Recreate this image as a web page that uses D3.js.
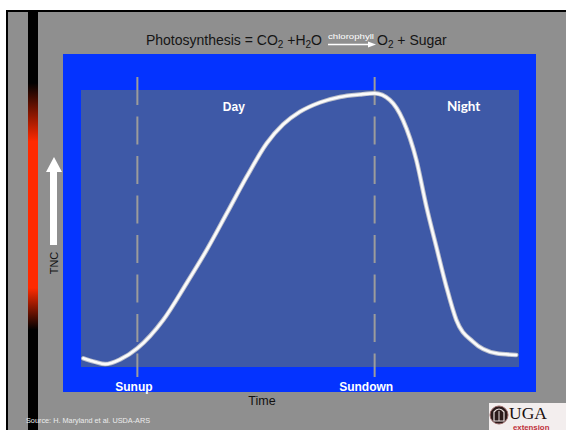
<!DOCTYPE html>
<html><head><meta charset="utf-8">
<script src="https://cdn.jsdelivr.net/npm/d3@7"></script>
<style>
html,body{margin:0;padding:0;background:#fff;}
svg{display:block;}
</style></head>
<body>
<script>
// ---- data ----
const times = [3.27, 3.86, 4.37, 5.13, 6.0, 7.31, 8.49, 9.5, 10.52, 11.53, 12.54, 13.37, 14.21, 15.23, 16.24, 17.25, 18.0, 18.77, 19.43, 20.11, 20.62, 21.12, 21.63, 22.13, 22.97, 24.15, 25.16];
const tnc   = [3.5, 2.2, 1.4, 3.1, 7.1, 17.3, 30.5, 42.4, 55.6, 68.8, 80.8, 87.6, 92.1, 95.5, 97.5, 98.4, 98.8, 96.4, 89.2, 74.8, 58.0, 43.6, 29.2, 17.3, 9.5, 5.3, 4.7];
const markerTimes = [6, 18];
const markerLabels = ["Sunup", "Sundown"];
const periodTimes = [10.88, 22.5];
const periodLabels = ["Day", "Night"];
const titleLeft = ["Photosynthesis = CO", "2", " +H", "2", "O"];
const titleRight = ["O", "2", " + Sugar"];
const catalyst = "chlorophyll";
const yLabel = "TNC";
const xLabel = "Time";
const source = "Source: H. Maryland et al. USDA-ARS";

const W = 566, H = 430;
const svg = d3.select("body").append("svg").attr("width", W).attr("height", H);

// slide background
svg.append("rect").attr("width", W).attr("height", H).attr("fill", "#fff");
svg.append("rect").attr("x", 6).attr("y", 10).attr("width", W - 6).attr("height", H - 10).attr("fill", "#000");
svg.append("rect").attr("x", 8).attr("y", 12).attr("width", W - 8).attr("height", H - 12).attr("fill", "#8f8f8f");

// gradient bar
const defs = svg.append("defs");
const g = defs.append("linearGradient").attr("id", "bar").attr("x1", 0).attr("y1", 0).attr("x2", 0).attr("y2", 1);
[[0, "#000"], [0.17, "#000"], [0.31, "#ff2a00"], [0.66, "#ff2a00"], [0.76, "#000"], [1, "#000"]]
  .forEach(([o, c]) => g.append("stop").attr("offset", o).attr("stop-color", c));
svg.append("rect").attr("x", 28).attr("y", 12).attr("width", 10).attr("height", H - 12).attr("fill", "url(#bar)");

// blue panels
svg.append("rect").attr("x", 63).attr("y", 54).attr("width", 473).attr("height", 338).attr("fill", "#0433ff");
svg.append("rect").attr("x", 81).attr("y", 90).attr("width", 438).attr("height", 277).attr("fill", "#3e59a7");

// scales
const x = d3.scaleLinear().domain([3.25, 25.2]).range([83, 517]);
const y = d3.scaleLinear().domain([0, 100]).range([368, 90]);

// dashed markers
svg.selectAll("line.marker").data(markerTimes).join("line")
  .attr("class", "marker")
  .attr("x1", d => x(d)).attr("x2", d => x(d))
  .attr("y1", 77).attr("y2", 377)
  .attr("stroke", "#9c9c9c").attr("stroke-width", 2)
  .attr("stroke-dasharray", "28,11.5");

// curve
const line = d3.line().x((d, i) => x(times[i])).y(d => y(d)).curve(d3.curveMonotoneX);
svg.append("path").datum(tnc).attr("d", line)
  .attr("fill", "none").attr("stroke", "#b9bdc9").attr("stroke-width", 4.5).attr("stroke-linecap", "round");
svg.append("path").datum(tnc).attr("d", line)
  .attr("fill", "none").attr("stroke", "#fbfbfb").attr("stroke-width", 2.6).attr("stroke-linecap", "round");

// period labels
svg.selectAll("text.period").data(periodLabels).join("text")
  .attr("class", "period")
  .attr("x", (d, i) => x(periodTimes[i])).attr("y", 111)
  .attr("text-anchor", "middle")
  .attr("fill", "#fff")
  .attr("font-family", (d, i) => i === 0 ? "Liberation Sans, Arial, sans-serif" : "Lato, Carlito, sans-serif")
  .attr("font-weight", "bold")
  .attr("font-size", (d, i) => i === 0 ? 12 : 13.5)
  .text(d => d);

// bottom axis with marker labels
const axis = d3.axisBottom(x).tickValues(markerTimes).tickSize(0)
  .tickFormat((d, i) => markerLabels[i]);
const ax = svg.append("g").attr("transform", "translate(0,376)").call(axis);
ax.select(".domain").remove();
ax.selectAll("text")
  .attr("fill", "#fff").attr("font-family", "Liberation Sans, Arial, sans-serif")
  .attr("font-weight", "bold").attr("font-size", 12)
  .attr("dy", 11.5)
  .attr("dx", (d, i) => i === 0 ? -4 : -9);

// x label
svg.append("text").attr("x", 262).attr("y", 405).attr("text-anchor", "middle")
  .attr("font-family", "Liberation Sans, Arial, sans-serif").attr("font-size", 12.5).attr("fill", "#111")
  .text(xLabel);

// y label & arrow
svg.append("path").attr("d", "M50,245 L50,172 L46,172 L54,157 L62,172 L57,172 L57,245 Z").attr("fill", "#fff");
svg.append("text").attr("transform", "translate(58,263) rotate(-90)").attr("text-anchor", "middle")
  .attr("font-family", "Liberation Sans, Arial, sans-serif").attr("font-size", 11).attr("fill", "#111")
  .text(yLabel);

// title
const TS = 14;
const tl = svg.append("text").attr("x", 322).attr("y", 45).attr("text-anchor", "end")
  .attr("font-family", "Liberation Sans, Arial, sans-serif").attr("font-size", TS).attr("fill", "#151515");
titleLeft.forEach((s, i) => {
  const sub = i % 2 === 1;
  tl.append("tspan").attr("dy", sub ? 3 : (i === 0 ? 0 : -3)).attr("font-size", sub ? 10 : TS).text(s);
});
const tr = svg.append("text").attr("x", 377).attr("y", 45)
  .attr("font-family", "Liberation Sans, Arial, sans-serif").attr("font-size", TS).attr("fill", "#151515");
titleRight.forEach((s, i) => {
  const sub = i % 2 === 1;
  tr.append("tspan").attr("dy", sub ? 3 : (i === 0 ? 0 : -3)).attr("font-size", sub ? 10 : TS).text(s);
});
svg.append("text").attr("x", 328).attr("y", 39)
  .attr("font-family", "Liberation Sans, Arial, sans-serif").attr("font-size", 8).attr("fill", "#fff")
  .attr("textLength", 46).attr("lengthAdjust", "spacingAndGlyphs")
  .text(catalyst);
svg.append("line").attr("x1", 328).attr("x2", 371).attr("y1", 44.5).attr("y2", 44.5).attr("stroke", "#fff").attr("stroke-width", 1.3);
svg.append("path").attr("d", "M368,41.5 L376,44.5 L368,47.5 Z").attr("fill", "#fff");

// source
svg.append("text").attr("x", 26).attr("y", 423)
  .attr("font-family", "Liberation Sans, Arial, sans-serif").attr("font-size", 7.3).attr("fill", "#ececec")
  .text(source);

// UGA logo
svg.append("rect").attr("x", 489).attr("y", 403).attr("width", 77).attr("height", 27).attr("fill", "#f3eeee");
svg.append("circle").attr("cx", 499).attr("cy", 415).attr("r", 9).attr("fill", "#2a1a1a").attr("stroke", "#9a6a6a").attr("stroke-width", 1);
svg.append("path").attr("d", "M494,421 L494,412 Q499,406 504,412 L504,421 Z").attr("fill", "none").attr("stroke", "#e8dede").attr("stroke-width", 1.2);
svg.append("line").attr("x1", 499).attr("x2", 499).attr("y1", 411).attr("y2", 421).attr("stroke", "#e8dede").attr("stroke-width", 1);
svg.append("text").attr("x", 509).attr("y", 418.5)
  .attr("font-family", "Liberation Serif, Times New Roman, serif").attr("font-size", 17.5).attr("fill", "#1a1010")
  .text("UGA");
svg.append("text").attr("x", 513).attr("y", 429.5)
  .attr("font-family", "Liberation Sans, Arial, sans-serif").attr("font-size", 7.8).attr("font-weight", "bold").attr("fill", "#c0303a")
  .text("extension");
</script>
</body></html>
